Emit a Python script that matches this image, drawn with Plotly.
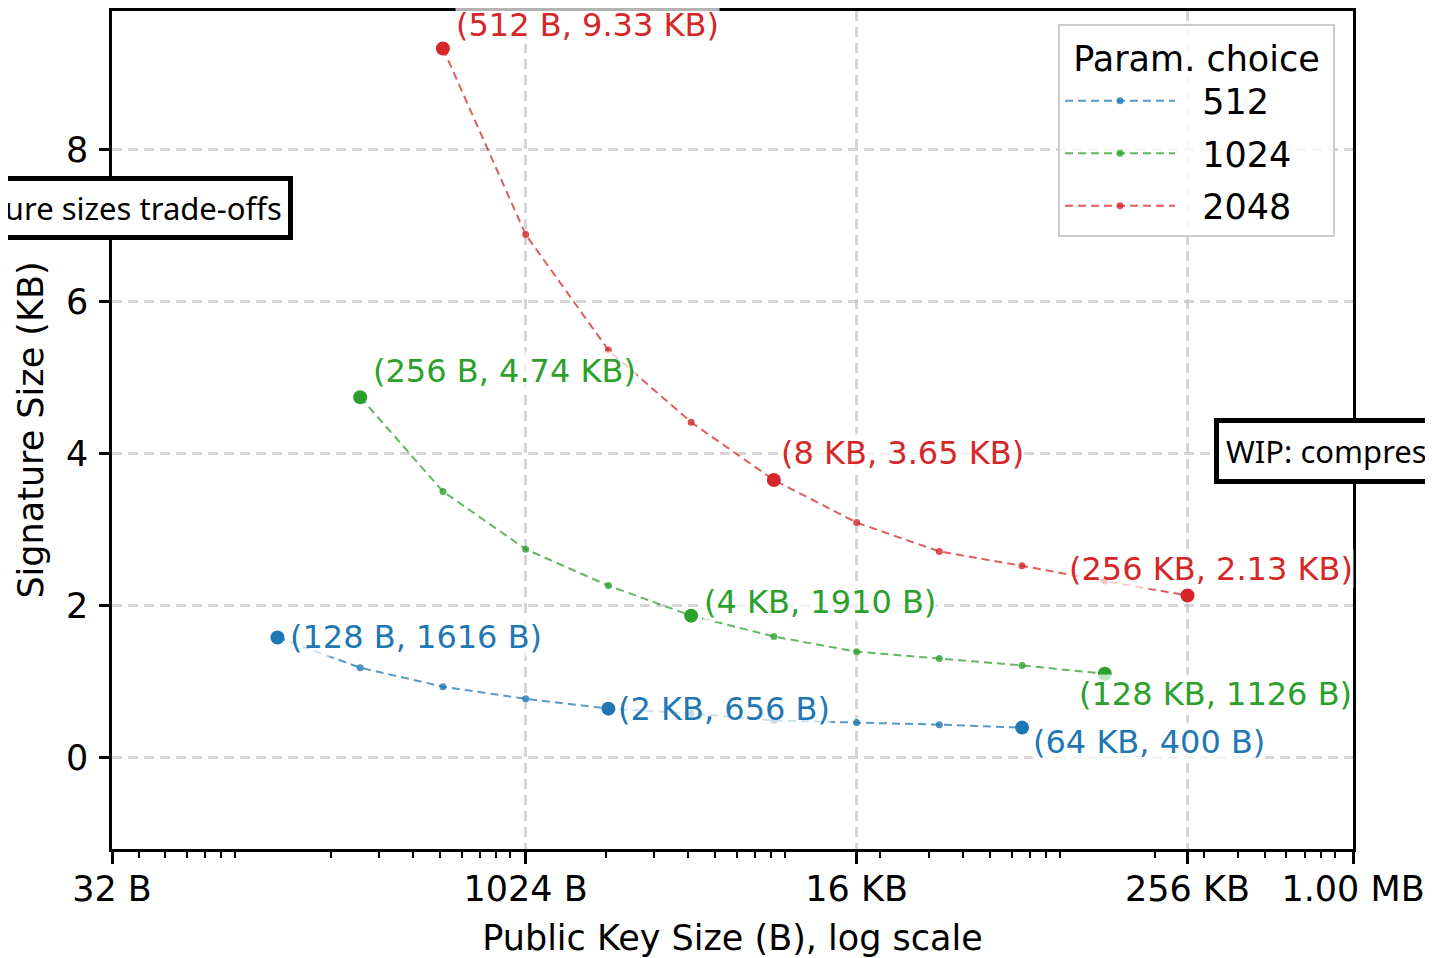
import math
import plotly.graph_objects as go

# ---------------- data ----------------
series_names = ["512", "1024", "2048"]
series_colors = ["#1f77b4", "#2ca02c", "#d62728"]

pk_512 = [128, 256, 512, 1024, 2048, 4096, 8192, 16384, 32768, 65536]
sig_512 = [1.578, 1.18, 0.93, 0.77, 0.641, 0.577, 0.485, 0.46, 0.43, 0.391]

pk_1024 = [256, 512, 1024, 2048, 4096, 8192, 16384, 32768, 65536, 131072]
sig_1024 = [4.74, 3.50, 2.74, 2.26, 1.865, 1.59, 1.39, 1.30, 1.21, 1.10]

pk_2048 = [512, 1024, 2048, 4096, 8192, 16384, 32768, 65536, 131072, 262144]
sig_2048 = [9.33, 6.88, 5.36, 4.41, 3.65, 3.09, 2.71, 2.52, 2.32, 2.13]

highlight_idx = [0, 4, 9]
labels_512 = ["(128 B, 1616 B)", "(2 KB, 656 B)", "(64 KB, 400 B)"]
labels_1024 = ["(256 B, 4.74 KB)", "(4 KB, 1910 B)", "(128 KB, 1126 B)"]
labels_2048 = ["(512 B, 9.33 KB)", "(8 KB, 3.65 KB)", "(256 KB, 2.13 KB)"]

x_tickvals = [32, 1024, 16384, 262144, 1048576]
x_ticktext = ["32 B", "1024 B", "16 KB", "256 KB", "1.00 MB"]
y_tickvals = [0, 2, 4, 6, 8]

# label placement (pixel offsets from the marker), styling only
label_shift = [
    [(12, 0, "left"), (9, 0, "left"), (10, -14, "left")],
    [(12, 26, "left"), (12, 14, "left"), (-27, -20, "left")],
    [(12, 23, "left"), (6, 27, "left"), (-120, 27, "left")],
]

FONT = "DejaVu Sans"
NB = "\u00a0"

# page layout (the page adds an 8px body margin)
PL, PR, PT, PB = 112, 1353, 8, 849   # plot area in page pixels
PW, PH = PR - PL, PB - PT


def px_x(p):
    return (p - PL) / PW


def px_y(p):
    return (PB - p) / PH


def rgba(hexc, a):
    h = hexc.lstrip("#")
    r, g, b = int(h[0:2], 16), int(h[2:4], 16), int(h[4:6], 16)
    return f"rgba({r},{g},{b},{a})"


fig = go.Figure()
all_pk = [pk_512, pk_1024, pk_2048]
all_sig = [sig_512, sig_1024, sig_2048]
all_labels = [labels_512, labels_1024, labels_2048]

annotations = []
for s, (name, col, pk, sig, labs) in enumerate(zip(series_names, series_colors, all_pk, all_sig, all_labels)):
    fig.add_trace(go.Scatter(
        x=pk, y=sig, mode="lines+markers", name=NB * 2 + name, legendgroup=name,
        line=dict(color=rgba(col, 0.75), width=2, dash="8px,5px"),
        marker=dict(color=rgba(col, 0.8), size=7),
    ))
    hx = [pk[i] for i in highlight_idx]
    hy = [sig[i] for i in highlight_idx]
    fig.add_trace(go.Scatter(
        x=hx, y=hy, mode="markers", showlegend=False, legendgroup=name,
        marker=dict(color=col, size=14),
    ))
    for k, i in enumerate(highlight_idx):
        dx, dy, anc = label_shift[s][k]
        annotations.append(dict(
            x=math.log10(pk[i]), y=sig[i], xref="x", yref="y",
            text=labs[k], showarrow=False, xanchor=anc, yanchor="middle",
            xshift=dx, yshift=dy, font=dict(family=FONT, size=32, color=col),
            bgcolor="rgba(255,255,255,0.7)", borderpad=0,
        ))

# clipped boxed notes at the edges
annotations.append(dict(
    x=px_x(293), y=px_y(206), xref="paper", yref="paper",
    text="Signature sizes trade-offs", showarrow=False, xanchor="right", yanchor="middle",
    font=dict(family="Noto Sans", size=31, color="black"),
    bgcolor="white", bordercolor="black", borderwidth=5, borderpad=6,
))
annotations.append(dict(
    x=px_x(1214), y=px_y(450), xref="paper", yref="paper",
    text="WIP: compressed keys", showarrow=False, xanchor="left", yanchor="middle",
    font=dict(family="Noto Sans", size=31, color="black"),
    bgcolor="white", bordercolor="black", borderwidth=5, borderpad=7,
))

minor_vals = [m * 10 ** e for e in range(1, 6) for m in range(2, 10)]
minor_vals = [v for v in minor_vals if 32 < v < 1048576]

grid_col = "rgba(200,200,200,0.75)"
W, H = 1425, 950
fig.update_layout(
    width=W, height=H,
    margin=dict(l=PL - 8, r=W - (PR - 8), t=PT - 8, b=H - (PB - 8), pad=0),
    paper_bgcolor="white", plot_bgcolor="white",
    font=dict(family=FONT, size=35, color="black"),
    showlegend=True,
    legend=dict(
        x=px_x(1335), y=px_y(21), xanchor="right", yanchor="top",
        title=dict(text=NB + "Param. choice" + NB, font=dict(family=FONT, size=35), side="top center"),
        font=dict(family=FONT, size=35),
        bgcolor="rgba(255,255,255,0.8)", bordercolor="#cccccc", borderwidth=2,
        traceorder="grouped", tracegroupgap=4, itemwidth=110,
    ),
    annotations=annotations,
)
fig.update_xaxes(
    type="log", range=[math.log10(32), math.log10(1048576)],
    tickmode="array", tickvals=x_tickvals, ticktext=x_ticktext,
    ticks="outside", ticklen=12, tickwidth=2.5, tickcolor="black",
    tickfont=dict(family=FONT, size=35), ticklabelstandoff=-5,
    showline=True, linecolor="black", linewidth=2.5, mirror=True,
    showgrid=True, gridcolor=grid_col, gridwidth=2.5, griddash="10px,6px",
    zeroline=False,
    minor=dict(tickmode="array", tickvals=minor_vals, ticks="outside", ticklen=6,
               tickwidth=2, tickcolor="black", showgrid=False),
    title=dict(text="Public Key Size (B), log scale", font=dict(family=FONT, size=35), standoff=19),
)
fig.update_yaxes(
    range=[-(PB - 757) / 76.25, (757 - PT) / 76.25], tickmode="array", tickvals=y_tickvals,
    ticks="outside", ticklen=10, tickwidth=2.5, tickcolor="black",
    tickfont=dict(family=FONT, size=35), ticklabelstandoff=4,
    showline=True, linecolor="black", linewidth=2.5, mirror=True,
    showgrid=True, gridcolor=grid_col, gridwidth=2.5, griddash="10px,6px",
    zeroline=False,
    title=dict(text="Signature Size (KB)", font=dict(family=FONT, size=35), standoff=12),
)

fig.write_html("out.html")
